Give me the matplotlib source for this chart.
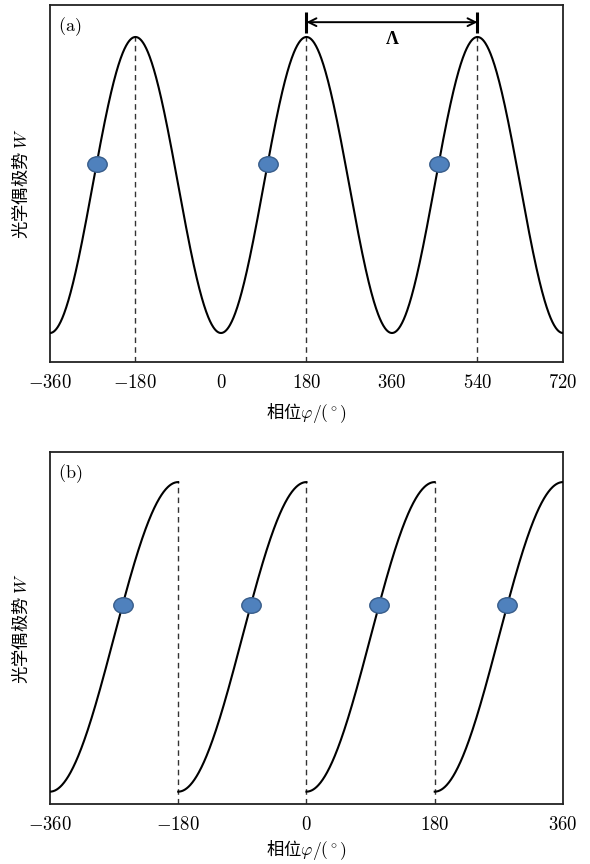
import numpy as np
import matplotlib
matplotlib.use('Agg')
import matplotlib.pyplot as plt
from matplotlib.path import Path
from matplotlib.transforms import Affine2D

# 字体设置
plt.rcParams['font.family'] = ['Noto Sans CJK SC', 'DejaVu Sans']
plt.rcParams['mathtext.fontset'] = 'cm'
plt.rcParams['axes.unicode_minus'] = True

# 坐标范围与刻度
XLIM_A = (-360, 720)
XTICKS_A = [-360, -180, 0, 180, 360, 540, 720]
XLIM_B = (-360, 360)
XTICKS_B = [-360, -180, 0, 180, 360]

# (a) 偶极势峰位置与工作点
PEAKS_A = [-180, 180, 540]
DOTS_A = [-262, 98, 458]
# (b) 每段起点（周期180°）与工作点
SEG_START_B = [-360, -180, 0, 180]
SEG_LEN_B = 180
DOTS_B = [-258, -78, 102, 282]

YLIM_A = (-0.098, 1.108)
YLIM_B = (-0.040, 1.097)

LINE_C = 'black'
DASH_C = '#333333'
DOT_FC = '#4F81BD'
DOT_EC = '#385D8A'

# 椭圆形标记
ell = Path.unit_circle().transformed(Affine2D().scale(1.25, 1.0))


def W(phi):
    # 归一化偶极势 sin^2(φ/2)
    return np.sin(np.deg2rad(phi) / 2) ** 2


def style_axes(ax, xlim, xticks, ylim, tag, xpad):
    ax.set_xlim(*xlim)
    ax.set_ylim(*ylim)
    ax.set_xticks(xticks)
    ax.set_xticklabels([f'${t}$' if t >= 0 else f'$-{-t}$' for t in xticks], fontsize=13.5)
    ax.set_yticks([])
    ax.tick_params(length=0, pad=7)
    for s in ax.spines.values():
        s.set_linewidth(1.3)
        s.set_color('#222222')
    ax.set_xlabel(r'相位$\varphi/(^\circ)$', fontsize=12.5, labelpad=xpad)
    ax.set_ylabel(r'光学偶极势 $W$', fontsize=12.5, labelpad=14)
    ax.text(0.016, 0.94, f'$\\mathrm{{({tag})}}$', transform=ax.transAxes,
            fontsize=13, va='center', ha='left')


fig = plt.figure(figsize=(5.9, 8.64), dpi=100)
ax1 = fig.add_axes([0.0847, 0.581, 0.8695, 0.4132])
ax2 = fig.add_axes([0.0847, 0.0694, 0.8695, 0.4074])

# (a)
phi = np.linspace(XLIM_A[0], XLIM_A[1], 1200)
ax1.plot(phi, W(phi), color=LINE_C, lw=1.5, zorder=3)
for p in PEAKS_A:
    ax1.plot([p, p], [YLIM_A[0], W(p)], color=DASH_C, lw=1.0, dashes=(4, 3), zorder=2)
dots = np.array(DOTS_A)
ax1.plot(dots, W(dots), ls='none', marker=ell, ms=14, mfc=DOT_FC, mec=DOT_EC, mew=1.0, zorder=4)

# 周期标注 Λ
y_arr = 1.05
ax1.annotate('', xy=(PEAKS_A[1], y_arr), xytext=(PEAKS_A[2], y_arr),
             arrowprops=dict(arrowstyle='<->', color='black', lw=1.4,
                             shrinkA=0, shrinkB=0, mutation_scale=14))
for p in PEAKS_A[1:]:
    ax1.plot([p, p], [1.013, 1.083], color='black', lw=2.2, solid_capstyle='butt')
ax1.text((PEAKS_A[1] + PEAKS_A[2]) / 2, 0.99, 'Λ', family='Liberation Serif',
         fontweight='bold', fontsize=13, ha='center', va='center')
style_axes(ax1, XLIM_A, XTICKS_A, YLIM_A, 'a', 6)

# (b)
for s in SEG_START_B:
    u = np.linspace(0, SEG_LEN_B, 300)
    ax2.plot(s + u, W(u), color=LINE_C, lw=1.5, zorder=3)
    if s + SEG_LEN_B < XLIM_B[1]:
        ax2.plot([s + SEG_LEN_B] * 2, [YLIM_B[0], W(SEG_LEN_B)], color=DASH_C,
                 lw=1.0, dashes=(4, 3), zorder=2)
dots_b = np.array(DOTS_B)
du = dots_b - np.array(SEG_START_B)
ax2.plot(dots_b, W(du), ls='none', marker=ell, ms=14, mfc=DOT_FC, mec=DOT_EC, mew=1.0, zorder=4)
style_axes(ax2, XLIM_B, XTICKS_B, YLIM_B, 'b', 2)

fig.savefig('out.png', dpi=100, facecolor='white')
